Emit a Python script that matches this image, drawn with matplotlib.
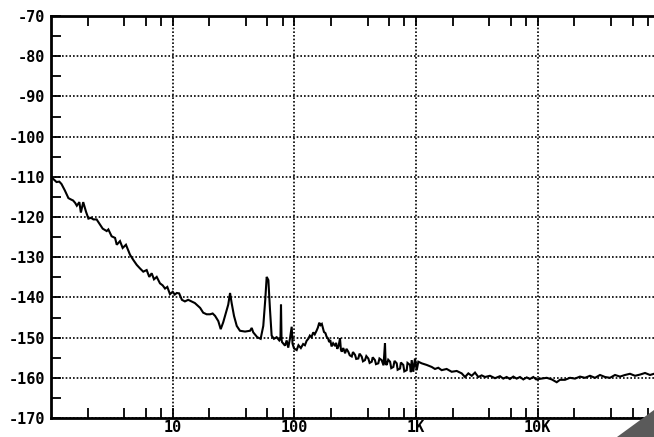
import matplotlib
matplotlib.use('Agg')
import matplotlib.pyplot as plt
from matplotlib.ticker import FixedLocator, NullFormatter
from matplotlib.font_manager import FontProperties
from matplotlib.patches import Polygon

## ----------------- DATA -------------------------------------------
# Offset frequency in Hz
freq_hz = [
    1.00, 1.05, 1.11, 1.17, 1.22, 1.30, 1.39, 1.45, 1.52, 1.58,
    1.63, 1.71, 1.76, 1.84, 1.94, 2.03, 2.13, 2.23, 2.37, 2.49,
    2.66, 2.87, 2.96, 3.15, 3.36, 3.47, 3.69, 3.88, 4.13, 4.46,
    4.75, 5.06, 5.39, 5.73, 6.11, 6.42, 6.72, 7.02, 7.39, 7.86,
    8.27, 8.65, 9.03, 9.50, 10.0, 10.4, 10.8, 11.3, 11.9, 12.6,
    13.4, 14.3, 15.2, 16.0, 16.8, 17.8, 19.0, 20.3, 21.3, 22.3,
    23.7, 24.8, 26.0, 27.4, 28.6, 29.6, 30.5, 31.9, 33.6, 35.7,
    39.3, 43.2, 44.6, 45.9, 49.5, 52.8, 55.5, 57.6, 59.2, 61.1,
    63.0, 65.0, 67.9, 71.5, 75.1, 76.8, 77.6, 78.4, 79.1, 83.7,
    86.4, 89.0, 92.0, 95.0, 96.5, 99.3, 104.4, 108, 113, 118,
    122, 126, 130, 134, 138, 143, 147, 152, 156, 160,
    164, 168, 172, 175, 180, 184, 189, 193, 197, 202,
    208, 216, 220, 225, 231, 237, 241, 245, 252, 261,
    268, 277, 285, 296, 303, 315, 322, 335, 343, 357,
    366, 380, 390, 405, 415, 432, 440, 459, 468, 489,
    500, 521, 540, 555, 562, 573, 590, 611, 625, 650,
    665, 693, 705, 738, 750, 785, 800, 837, 850, 891,
    905, 920, 948, 979, 1012, 1043, 1112, 1222, 1343, 1429,
    1521, 1622, 1783, 1960, 2157, 2370, 2523, 2686, 2864, 3048,
    3245, 3459, 3681, 4047, 4449, 4891, 5200, 5546, 5900, 6289,
    6700, 7140, 7600, 8109, 8600, 9183, 9700, 10770, 11840, 13010,
    14300, 15210, 16720, 18380, 20210, 22220, 24420, 26850, 29510, 32440,
    35660, 39200, 43090, 47370, 52070, 57240, 62920, 69170, 76040, 83590,
    90150, 95000,
]

# Single sideband phase noise in dBc/Hz
noise_dbc = [
    -110.0, -110.6, -111.3, -111.2, -111.8, -113.4, -115.3, -115.6, -115.9, -116.5,
    -117.2, -116.3, -118.9, -116.3, -118.7, -120.4, -120.2, -120.6, -120.6, -121.6,
    -122.9, -123.5, -123.1, -124.8, -125.2, -126.9, -126.0, -127.7, -126.9, -129.4,
    -130.7, -131.9, -132.8, -133.6, -133.2, -134.9, -134.0, -135.5, -134.9, -136.5,
    -137.0, -137.8, -137.4, -139.2, -138.6, -139.3, -138.9, -139.0, -140.6, -141.0,
    -140.6, -141.0, -141.4, -142.0, -142.6, -143.8, -144.2, -144.2, -144.0, -144.6,
    -145.9, -147.9, -146.2, -143.8, -141.8, -138.9, -141.4, -144.6, -147.1, -148.3,
    -148.5, -148.3, -147.6, -148.7, -149.9, -150.3, -147.1, -140.6, -134.9, -135.7,
    -143.0, -149.5, -150.3, -149.9, -150.7, -150.2, -141.8, -150.5, -151.1, -152.0,
    -150.7, -152.5, -150.2, -147.3, -151.5, -152.7, -153.1, -151.9, -152.6, -151.6,
    -151.9, -150.8, -150.3, -149.5, -149.9, -148.7, -149.2, -148.3, -147.5, -146.3,
    -146.9, -146.6, -147.8, -148.6, -148.9, -149.8, -150.2, -151.1, -150.6, -152.2,
    -151.4, -152.1, -151.3, -152.8, -152.0, -150.2, -153.0, -153.5, -152.6, -153.9,
    -152.8, -153.5, -154.4, -154.7, -153.6, -154.3, -155.3, -155.2, -154.0, -154.7,
    -155.9, -155.6, -154.6, -155.2, -156.3, -156.0, -154.9, -155.6, -156.6, -156.4,
    -155.2, -155.6, -156.9, -151.4, -156.5, -156.8, -155.5, -156.0, -157.6, -157.3,
    -155.8, -156.4, -158.0, -157.7, -156.2, -156.8, -158.4, -158.1, -156.3, -156.8,
    -158.6, -155.6, -158.5, -155.2, -158.1, -156.0, -156.4, -156.8, -157.3, -157.8,
    -157.5, -158.1, -157.8, -158.5, -158.3, -158.9, -159.8, -158.9, -159.5, -158.7,
    -159.8, -159.4, -159.8, -159.5, -160.1, -159.6, -160.2, -159.8, -160.3, -159.7,
    -160.2, -159.8, -160.4, -159.9, -160.3, -159.8, -160.4, -160.2, -160.0, -160.4,
    -161.1, -160.5, -160.5, -160.0, -160.2, -159.7, -160.0, -159.5, -160.0, -159.3,
    -159.8, -160.0, -159.3, -159.7, -159.3, -159.0, -159.5, -159.2, -158.8, -159.3,
    -159.0, -159.2,
]

y_ticks = [-170, -160, -150, -140, -130, -120, -110, -100, -90, -80, -70]
y_minor = [-165, -155, -145, -135, -125, -115, -105, -95, -85, -75]
x_tick_pos = [10, 100, 1000, 10000]
x_tick_labels = ['10', '100', '1K', '10K']
x_minor = [m * 10 ** d for d in range(5) for m in (2, 4, 6, 8)]

## --------------------- PLOT ---------------------------
fig = plt.figure(figsize=(6.54, 4.37), dpi=100)
fig.patch.set_facecolor('white')

# axes run a little past the right edge, like the cropped scan
ax = fig.add_axes([51 / 654, 19 / 437, 608.5 / 654, 402 / 437])

ax.plot(freq_hz, noise_dbc, color='black', linewidth=1.5,
        solid_joinstyle='miter', zorder=3)

ax.set_xscale('log')
ax.set_xlim(1, 1e5)
ax.set_ylim(-170, -70)

ax.xaxis.set_major_locator(FixedLocator(x_tick_pos))
ax.xaxis.set_minor_locator(FixedLocator(x_minor))
ax.xaxis.set_minor_formatter(NullFormatter())
ax.set_xticklabels(x_tick_labels)

ax.yaxis.set_major_locator(FixedLocator(y_ticks))
ax.yaxis.set_minor_locator(FixedLocator(y_minor))
ax.set_yticklabels([str(v) for v in y_ticks])

label_font = FontProperties(family='DejaVu Sans Mono', weight='bold', size=11)
for lab in ax.get_xticklabels() + ax.get_yticklabels():
    lab.set_fontproperties(label_font)

# right side is cut off in the scan, so no ticks there
ax.tick_params(which='both', direction='in', top=True, right=False,
               width=1.3, color='black')
ax.tick_params(which='major', length=7)
ax.tick_params(which='minor', length=7)
ax.tick_params(axis='y', which='major', pad=4)
ax.tick_params(axis='x', which='major', pad=1.5)

# dotted grid at the decades and every 10 dB
ax.grid(True, which='major', color='black', linestyle=(0, (1, 1.2)), linewidth=1.2)

for side in ax.spines.values():
    side.set_linewidth(2)
    side.set_color('black')

# folded page corner in the scan
corner = Polygon([(1.0, 27 / 437), (1.0, 0.0), (617 / 654, 0.0)],
                 closed=True, transform=fig.transFigure,
                 facecolor='#5a5a5a', edgecolor='none', zorder=10)
fig.patches.append(corner)

fig.savefig('out.png', dpi=100)
